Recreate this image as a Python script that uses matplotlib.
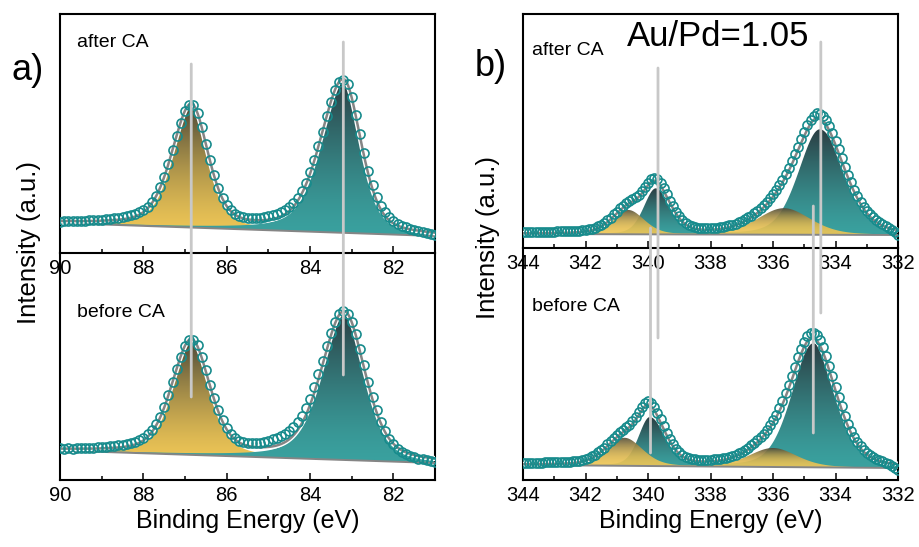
import matplotlib.pyplot as plt
import matplotlib.patheffects as pe
import numpy as np
from matplotlib.colors import to_rgb
from matplotlib.patches import ConnectionPatch

plt.rcParams['font.family'] = ['Liberation Sans', 'DejaVu Sans']

# measured spectra: energy grid (start, stop, step in eV) and intensities
au_grid = (90.0, 81.0, 0.1)
pd_grid = (344.0, 332.0, 0.1)

au_after = [31.5, 31.8, 31.6, 31.9, 32.0, 32.2, 32.3, 32.6, 32.8, 33.0,
            33.5, 33.9, 34.4, 34.8, 35.5, 36.0, 36.8, 37.8, 39.0, 40.6,
            43.0, 46.3, 51.0, 57.2, 65.8, 76.5, 88.8, 103.0, 117.3, 130.5,
            142.0, 148.0, 148.2, 139.6, 126.2, 109.5, 93.0, 78.0, 65.2, 55.4,
            48.0, 42.9, 39.4, 37.3, 36.0, 35.3, 35.0, 35.0, 35.2, 35.8,
            36.6, 37.6, 39.2, 40.9, 43.3, 46.2, 50.0, 55.2, 62.2, 70.3,
            80.6, 92.6, 106.8, 121.4, 136.6, 150.8, 162.6, 170.6, 173.4, 169.0,
            156.2, 138.4, 118.8, 99.6, 82.5, 67.8, 56.0, 47.2, 40.6, 35.8,
            32.2, 29.5, 27.4, 25.6, 24.1, 22.8, 21.7, 20.7, 19.8, 19.0,
            18.4]
au_before = [31.6, 31.4, 31.7, 31.5, 31.8, 31.9, 32.0, 32.2, 32.4, 32.6,
             33.0, 33.4, 33.8, 34.3, 35.0, 35.5, 36.2, 37.2, 38.5, 40.0,
             42.5, 45.6, 50.0, 55.6, 63.4, 73.2, 84.8, 97.8, 111.0, 123.4,
             134.0, 140.0, 140.4, 134.8, 123.0, 109.6, 95.2, 81.6, 69.6, 59.6,
             51.8, 46.0, 42.0, 39.4, 37.8, 37.0, 36.8, 37.0, 37.5, 38.4,
             39.4, 40.6, 42.2, 44.0, 46.4, 49.4, 53.2, 58.0, 64.4, 71.8,
             81.4, 92.6, 105.8, 119.4, 133.8, 147.0, 158.0, 165.6, 168.8, 166.0,
             158.4, 146.0, 131.0, 114.6, 98.0, 83.0, 69.6, 58.2, 48.6, 41.2,
             35.6, 31.4, 28.2, 25.8, 24.0, 22.6, 21.5, 20.6, 19.8, 19.1,
             18.5]
pd_after = [16.2, 16.2, 16.3, 16.3, 16.3, 16.4, 16.4, 16.4, 16.5, 16.5,
            16.5, 16.6, 16.6, 16.7, 16.8, 16.9, 17.0, 17.3, 17.5, 17.8,
            18.2, 18.7, 19.4, 20.3, 21.7, 23.3, 25.5, 27.8, 30.5, 33.6,
            36.5, 39.6, 42.3, 44.8, 46.9, 48.7, 50.8, 53.5, 56.8, 60.9,
            65.1, 68.8, 70.1, 68.6, 64.9, 59.8, 53.7, 47.4, 41.7, 36.2,
            31.9, 28.3, 25.4, 23.4, 22.0, 21.0, 20.4, 20.1, 19.9, 19.9,
            19.9, 20.1, 20.4, 20.7, 21.3, 21.9, 22.6, 23.4, 24.4, 25.7,
            27.1, 28.6, 30.6, 32.5, 34.7, 37.3, 39.8, 43.0, 46.3, 49.9,
            53.8, 58.2, 63.2, 68.3, 73.7, 80.1, 86.9, 93.9, 101.3, 108.7,
            116.1, 122.6, 128.2, 132.4, 134.6, 134.3, 131.8, 127.6, 121.7, 114.8,
            106.8, 98.6, 90.0, 81.5, 73.4, 65.7, 58.5, 52.1, 46.4, 41.4,
            37.2, 33.7, 30.8, 28.2, 25.9, 24.0, 22.2, 20.3, 18.2, 15.6,
            12.8]
pd_before = [17.4, 17.4, 17.4, 17.4, 17.4, 17.5, 17.5, 17.6, 17.7, 17.7,
             17.7, 17.8, 17.9, 18.1, 18.2, 18.4, 18.7, 19.0, 19.5, 20.1,
             21.0, 22.3, 23.6, 25.4, 27.6, 30.0, 32.5, 35.8, 39.0, 42.1,
             45.0, 47.8, 50.2, 52.8, 55.3, 58.6, 62.7, 67.6, 72.6, 76.8,
             79.0, 77.1, 72.9, 67.1, 60.6, 53.6, 46.9, 40.9, 35.7, 31.3,
             28.1, 25.5, 23.5, 22.2, 21.3, 20.9, 20.5, 20.3, 20.2, 20.2,
             20.3, 20.6, 20.9, 21.3, 21.8, 22.5, 23.4, 24.4, 25.5, 26.9,
             28.4, 30.5, 32.3, 34.6, 37.1, 39.9, 43.1, 46.5, 50.5, 55.1,
             60.0, 65.5, 71.9, 78.9, 86.6, 95.2, 104.3, 113.5, 122.6, 130.9,
             138.5, 144.0, 147.1, 147.4, 144.8, 139.6, 132.7, 123.9, 114.2, 103.7,
             93.3, 83.2, 73.6, 64.5, 56.5, 49.5, 43.2, 38.1, 33.6, 30.2,
             27.3, 25.0, 23.2, 21.4, 20.0, 18.6, 17.3, 15.8, 14.2, 12.2,
             10.0]

# fitted components: centre, height, width (high-BE side), width (low-BE side), colour
au_after_center = [86.85, 83.2]
au_after_height = [122, 153]
au_after_whi = [1.1, 1.3]
au_after_wlo = [0.95, 1.0]
au_before_center = [86.85, 83.18]
au_before_height = [114, 148]
au_before_whi = [1.1, 1.3]
au_before_wlo = [1.05, 1.18]
au_kind = ['gold', 'teal']

pd_after_center = [334.5, 339.75, 335.65, 340.63]
pd_after_height = [105.5, 46, 26.5, 24.3]
pd_after_whi = [1.6, 0.9, 2.0, 1.2]
pd_after_wlo = [1.85, 1.1, 2.0, 1.2]
pd_before_center = [334.71, 339.94, 336.0, 340.75]
pd_before_height = [124, 49, 19, 28]
pd_before_whi = [1.6, 0.85, 1.8, 1.35]
pd_before_wlo = [1.7, 1.15, 1.8, 1.35]
pd_kind = ['teal', 'teal', 'gold', 'gold']

# baselines (left end, right end)
au_after_base = (30.0, 17.0)
au_before_base = (29.5, 17.0)
pd_after_base = (14.0, 13.0)
pd_before_base = (15.0, 12.0)

# marker lines: energy, top end (upper panel), bottom end (lower panel)
au_lines = [(86.85, 189, 83), (83.2, 211, 105)]
pd_lines = [(339.68, 180, 142), (334.47, 206, 167), (339.92, 20, 27), (334.71, 42, 47)]

COLORS = {'gold': ('#eec656', '#4b4839'), 'teal': ('#3aa19f', '#2b3d42')}
CIRCLE = '#178b8c'
GRAY = '#858585'
VLINE = '#c8c8c8'


def energies(grid):
    start, stop, step = grid
    n = int(round((start - stop) / step)) + 1
    return np.round(start - step * np.arange(n), 2)


def pvoigt(e, c, h, whi, wlo, m):
    w = np.where(e >= c, whi, wlo)
    u = (e - c) / w
    return h * (m / (1 + 4 * u ** 2) + (1 - m) * np.exp(-4 * np.log(2) * u ** 2))


def gradient_fill(ax, x, lo, hi, kind, alpha, z, power):
    poly = ax.fill_between(x, lo, hi, facecolor='none', edgecolor='none', zorder=z)
    t = np.linspace(0, 1, 200)[:, None] ** power
    c_low, c_high = COLORS[kind]
    rgb = (1 - t) * np.array(to_rgb(c_low)) + t * np.array(to_rgb(c_high))
    img = np.concatenate([rgb, np.full((200, 1), alpha)], axis=1)[:, None, :]
    im = ax.imshow(img, extent=(x.min(), x.max(), lo.min(), hi.max()), origin='lower',
                   aspect='auto', zorder=z, interpolation='bilinear')
    im.set_clip_path(poly.get_paths()[0], transform=ax.transData)


def draw_spectrum(ax, grid, meas, centers, heights, whi, wlo, kinds, base, m, alpha, power):
    e = energies(grid)
    xf = np.linspace(e.min(), e.max(), 700)
    bl = np.interp(xf, [e.min(), e.max()], [base[1], base[0]])
    comps = [pvoigt(xf, c, h, a, b, m) for c, h, a, b in zip(centers, heights, whi, wlo)]
    for i, comp in enumerate(comps):
        gradient_fill(ax, xf, bl, bl + comp, kinds[i], alpha[i], 2 + 0.1 * i, power[i])
    ax.plot(xf, bl, color=GRAY, lw=1.4, zorder=3)
    ax.plot(xf, bl + np.sum(comps, axis=0), color=GRAY, lw=1.8, zorder=4,
            path_effects=[pe.Stroke(linewidth=3.8, foreground='white'), pe.Normal()])
    ax.plot(e, meas, 'o', mfc='none', mec=CIRCLE, ms=6.5, mew=1.2, zorder=5)
    ax.set_xlim(e.max(), e.min())


W, H = 920, 547
fig = plt.figure(figsize=(W / 100, H / 100), dpi=100)


def add_ax(left, top, right, bottom):
    return fig.add_axes([left / W, 1 - bottom / H, (right - left) / W, (bottom - top) / H])


a_top = add_ax(60, 14, 435, 253)
a_bot = add_ax(60, 253, 435, 480)
b_top = add_ax(523, 14, 898, 248)
b_bot = add_ax(523, 248, 898, 480)

draw_spectrum(a_top, au_grid, au_after, au_after_center, au_after_height, au_after_whi,
              au_after_wlo, au_kind, au_after_base, 0.4, [1, 1], [1.4, 1.4])
draw_spectrum(a_bot, au_grid, au_before, au_before_center, au_before_height, au_before_whi,
              au_before_wlo, au_kind, au_before_base, 0.4, [1, 1], [1.4, 1.4])
draw_spectrum(b_top, pd_grid, pd_after, pd_after_center, pd_after_height, pd_after_whi,
              pd_after_wlo, pd_kind, pd_after_base, 0.3, [1, 1, 0.92, 0.92], [1.4, 1.4, 2.2, 2.2])
draw_spectrum(b_bot, pd_grid, pd_before, pd_before_center, pd_before_height, pd_before_whi,
              pd_before_wlo, pd_kind, pd_before_base, 0.3, [1, 1, 0.92, 0.92], [1.4, 1.4, 2.2, 2.2])

for ax, hgt in zip([a_top, a_bot, b_top, b_bot], [239, 227, 234, 232]):
    ax.set_ylim(0, hgt)
    ax.set_yticks([])
    for sp in ax.spines.values():
        sp.set_linewidth(1.5)
    ax.tick_params(axis='x', which='both', direction='in', top=False, width=1.1,
                   labelsize=14.5, pad=4)
    ax.tick_params(axis='x', which='major', length=5)
    ax.tick_params(axis='x', which='minor', length=2.6)

for ax in [a_top, a_bot]:
    ax.set_xticks([90, 88, 86, 84, 82])
    ax.set_xticks(np.arange(81, 91), minor=True)
for ax in [b_top, b_bot]:
    ax.set_xticks([344, 342, 340, 338, 336, 334, 332])
    ax.set_xticks(np.arange(332, 345), minor=True)

for ax in [a_bot, b_bot]:
    ax.spines['top'].set_visible(False)
    ax.set_facecolor('none')
    ax.set_xlabel('Binding Energy (eV)', fontsize=18, labelpad=3)

for (top, bot, lines) in [(a_top, a_bot, au_lines), (b_top, b_bot, pd_lines)]:
    for e, y1, y2 in lines:
        con = ConnectionPatch(xyA=(e, y1), coordsA=top.transData, xyB=(e, y2),
                              coordsB=bot.transData, color=VLINE, lw=2, zorder=10)
        fig.add_artist(con)

a_top.text(0.045, 0.879, 'after CA', transform=a_top.transAxes, fontsize=14, va='center')
a_bot.text(0.045, 0.74, 'before CA', transform=a_bot.transAxes, fontsize=14, va='center')
b_top.text(0.024, 0.846, 'after CA', transform=b_top.transAxes, fontsize=14, va='center')
b_bot.text(0.024, 0.746, 'before CA', transform=b_bot.transAxes, fontsize=14, va='center')
b_top.text(0.52, 0.902, 'Au/Pd=1.05', transform=b_top.transAxes, fontsize=25,
           ha='center', va='center')

fig.text(12 / W, 1 - 71 / H, 'a)', fontsize=26, ha='left', va='center')
fig.text(475 / W, 1 - 66 / H, 'b)', fontsize=26, ha='left', va='center')
fig.text(29 / W, 1 - 242 / H, 'Intensity (a.u.)', fontsize=18.5, rotation=90,
         ha='center', va='center')
fig.text(488 / W, 1 - 237 / H, 'Intensity (a.u.)', fontsize=18.5, rotation=90,
         ha='center', va='center')

fig.savefig('out.png', dpi=100)
